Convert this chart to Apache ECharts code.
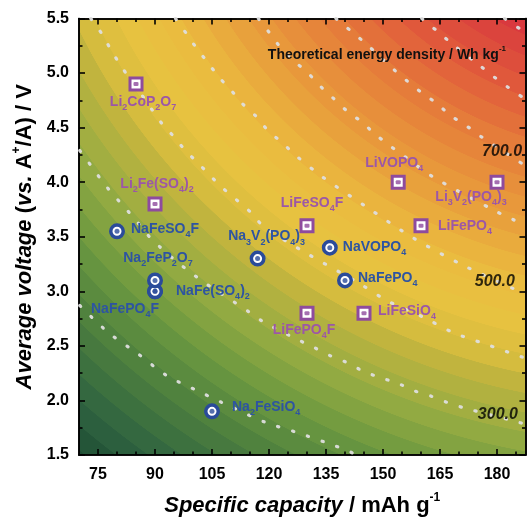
<!DOCTYPE html>
<html><head><meta charset="utf-8">
<script src="https://cdn.jsdelivr.net/npm/echarts@6/dist/echarts.min.js"></script>
<style>html,body{margin:0;padding:0;background:#fff}#chart{width:530px;height:522px}</style>
</head><body><div id="chart"></div>
<script>
// ---------------- data ----------------
const liNames    = ['Li2CoP2O7','Li2Fe(SO4)2','LiFeSO4F','LiVOPO4','Li3V2(PO4)3','LiFePO4','LiFePO4F','LiFeSiO4'];
const liCapacity = [85, 90, 130, 154, 180, 160, 130, 145];
const liVoltage  = [4.9, 3.8, 3.6, 4.0, 4.0, 3.6, 2.8, 2.8];

const naNames    = ['NaFeSO4F','NaFe(SO4)2','NaFePO4F','Na2FeP2O7','Na3V2(PO4)3','NaVOPO4','NaFePO4','Na2FeSiO4'];
const naCapacity = [80, 90, 90, 90, 117, 136, 140, 105];
const naVoltage  = [3.55, 3.0, 3.0, 3.1, 3.3, 3.4, 3.1, 1.9];

// dotted iso-energy lines: [capacity, voltage]
const contour200 = [[70.2,2.87],[77.8,2.62],[85.4,2.43],[93.0,2.23],[101.7,2.08],[110.1,1.94],[119.0,1.80],[127.9,1.70],[136.9,1.59],[141.3,1.53],[142.9,1.50]];
const contour300 = [[70.2,4.29],[73.4,4.14],[76.3,4.00],[78.9,3.89],[82.0,3.77],[85.2,3.64],[88.0,3.52],[91.2,3.41],[95.1,3.29],[99.1,3.18],[103.0,3.08],[106.9,2.99],[110.9,2.90],[114.8,2.81],[119.0,2.71],[127.4,2.56],[131.6,2.49],[136.1,2.41],[140.3,2.35],[144.7,2.27],[149.2,2.21],[153.7,2.16],[158.1,2.09],[162.6,2.04],[167.0,1.98],[171.5,1.93],[185.7,1.80],[187.5,1.78]];
const contour400 = [[73.1,5.50],[76.2,5.35],[78.6,5.20],[81.0,5.07],[83.3,4.95],[86.5,4.80],[89.1,4.67],[92.0,4.53],[94.9,4.42],[98.0,4.29],[101.2,4.18],[104.8,4.05],[107.7,3.95],[111.4,3.84],[115.3,3.72],[118.7,3.59],[130.3,3.34],[143.4,3.08],[151.3,2.91],[160.2,2.77],[168.6,2.62],[177.5,2.51],[186.4,2.40],[187.5,2.39]];
const contour500 = [[95.4,5.50],[98.3,5.36],[100.9,5.23],[103.8,5.10],[106.9,4.96],[110.1,4.84],[113.0,4.72],[116.7,4.60],[119.8,4.47],[123.2,4.37],[127.2,4.24],[134.0,4.05],[145.8,3.77],[157.9,3.49],[171.0,3.24],[185.2,3.01],[187.5,2.97]];
const contour600 = [[117.2,5.50],[120.1,5.37],[122.7,5.25],[126.6,5.11],[130.0,5.01],[133.5,4.88],[136.9,4.77],[140.6,4.65],[144.5,4.55],[147.9,4.44],[151.6,4.34],[155.5,4.24],[163.1,4.05],[179.9,3.73],[184.1,3.66],[187.5,3.60]];
const contour700 = [[137.6,5.50],[142.1,5.37],[145.8,5.26],[149.2,5.15],[152.9,5.03],[156.6,4.92],[160.2,4.82],[164.2,4.72],[167.8,4.61],[171.8,4.52],[175.7,4.42],[187.5,4.15]];
const contour800 = [[160.2,5.50],[164.4,5.38],[168.1,5.27],[175.4,5.07],[179.4,4.96],[183.3,4.86],[187.5,4.76]];
const contour900 = [[182.0,5.50],[187.5,5.37]];

const levelLabels   = ['300.0', '500.0', '700.0'];
const levelLabelCap = [185.5, 184.7, 186.6];
const levelLabelV   = [1.87, 3.09, 4.28];

const xMajorTicks = [75, 90, 105, 120, 135, 150, 165, 180];
const xMinorTicks = [80, 85, 95, 100, 110, 115, 125, 130, 140, 145, 155, 160, 170, 175, 185];
const yMajorTicks = [1.5, 2.0, 2.5, 3.0, 3.5, 4.0, 4.5, 5.0, 5.5];
const yMinorTicks = [1.75, 2.25, 2.75, 3.25, 3.75, 4.25, 4.75, 5.25];

// ---------------- styles ----------------
const FONT = '"Liberation Sans", Arial, Helvetica, sans-serif';
const LI_MARK = '#8e4b9e', LI_TEXT = '#9c57a7';
const NA_MARK = '#2a4b9a', NA_TEXT = '#2d54a2';

// label offsets relative to marker centre [dx, dy, align]
const labelPlace = {
  'Li2CoP2O7':   [7, 21, 'center'],
  'Li2Fe(SO4)2': [2, -17, 'center'],
  'LiFeSO4F':    [5, -20, 'center'],
  'LiVOPO4':     [-4, -16, 'center'],
  'Li3V2(PO4)3': [-26, 18, 'center'],
  'LiFePO4':     [17, 3, 'left'],
  'LiFePO4F':    [-3, 20, 'center'],
  'LiFeSiO4':    [14, 1, 'left'],
  'NaFeSO4F':    [14, 1, 'left'],
  'Na2FeP2O7':   [3, -19, 'center'],
  'NaFe(SO4)2':  [21, 3, 'left'],
  'NaFePO4F':    [-30, 21, 'center'],
  'Na3V2(PO4)3': [9, -19, 'center'],
  'NaVOPO4':     [13, 2, 'left'],
  'NaFePO4':     [13, 1, 'left'],
  'Na2FeSiO4':   [20, -1, 'left']
};

function formulaRich(name) {
  return name.replace(/([A-Za-z()]+)|(\d+)/g, (m, a, d) => a ? '{n|' + a + '}' : '{s|' + d + '}');
}
function richFor(color) {
  return {
    n: {color, fontSize: 14, fontWeight: 'bold', fontFamily: FONT, lineHeight: 14, padding: [0,0,3,0], verticalAlign: 'bottom', align: 'left'},
    s: {color, fontSize: 9, fontWeight: 'bold', fontFamily: FONT, lineHeight: 9, padding: [9,0,0,0], verticalAlign: 'bottom', align: 'left'}
  };
}
function pointData(names, caps, volts, color) {
  return names.map((nm, i) => {
    const p = labelPlace[nm];
    return {
      name: nm, value: [caps[i], volts[i]],
      label: {show: true, position: 'inside', offset: [p[0], p[1]], align: p[2], verticalAlign: 'middle',
              formatter: formulaRich(nm), rich: richFor(color)}
    };
  });
}
function dotData(caps, volts) { return caps.map((c, i) => [c, volts[i]]); }

const contourStyle = {color: 'rgba(222,222,222,0.95)', width: 3.2, type: [1.3, 14.3], cap: 'round'};
function contourSeries(data) {
  return {type: 'line', data, smooth: 0.3, showSymbol: false, silent: true, z: 3,
          lineStyle: contourStyle, xAxisIndex: 0, yAxisIndex: 0};
}

// smooth colour ramp of the background field, then quantised into bands (filled-contour look)
const ramp = [
  [0.00, '#d4303e'], [0.326, '#d8363e'], [0.341, '#da3e3d'], [0.398, '#e05a3b'], [0.454, '#e57a3a'],
  [0.525, '#e89a3b'], [0.601, '#eabc3f'], [0.645, '#e8c240'], [0.688, '#d6bc3e'], [0.705, '#c4b53e'],
  [0.770, '#94ab42'], [0.825, '#6c9840'], [0.872, '#52843e'], [0.955, '#2e6240'], [1.00, '#1e4d33']
];
function hex2rgb(h) { return [1,3,5].map(i => parseInt(h.substr(i, 2), 16)); }
function rampAt(t) {
  for (let i = 1; i < ramp.length; i++) {
    if (t <= ramp[i][0]) {
      const a = ramp[i-1], b = ramp[i], f = (t - a[0]) / (b[0] - a[0]);
      const ca = hex2rgb(a[1]), cb = hex2rgb(b[1]);
      return 'rgb(' + ca.map((v, k) => Math.round(v + (cb[k] - v) * f)).join(',') + ')';
    }
  }
  return ramp[ramp.length-1][1];
}
const bandStops = [];
const BAND = 0.021;
for (let t = 0.30; t < 1.0; t += BAND) {
  const c = rampAt(Math.min(1, t + BAND / 2));
  bandStops.push({offset: t, color: c});
  bandStops.push({offset: Math.min(1, t + BAND - 0.0005), color: c});
}
const bg = {type: 'radial', x: 650, y: -250, r: 910, global: true,
            colorStops: [{offset: 0, color: '#d4303e'}].concat(bandStops)};

const axisLineStyle = {color: '#000', width: 1.6};
function xAx(pos, ticks, len, withLabel) {
  return {
    type: 'value', min: 70, max: 187.5, position: pos, gridIndex: 0,
    axisLine: {show: true, onZero: false, lineStyle: axisLineStyle},
    axisTick: {show: true, inside: true, length: len, customValues: ticks, lineStyle: {color: '#000', width: 1.6}},
    axisLabel: {show: withLabel, customValues: ticks, fontSize: 16, fontWeight: 'bold', color: '#000', fontFamily: FONT, margin: 12},
    splitLine: {show: false}
  };
}
function yAx(pos, ticks, len, withLabel) {
  return {
    type: 'value', min: 1.5, max: 5.5, position: pos, gridIndex: 0,
    axisLine: {show: true, onZero: false, lineStyle: axisLineStyle},
    axisTick: {show: true, inside: true, length: len, customValues: ticks, lineStyle: {color: '#000', width: 1.6}},
    axisLabel: {show: withLabel, customValues: ticks, fontSize: 16, fontWeight: 'bold', color: '#000', fontFamily: FONT, margin: 10,
                formatter: v => v.toFixed(1)},
    splitLine: {show: false}
  };
}
const nameRich = {
  it: {fontSize: 22, fontWeight: 'bold', fontStyle: 'italic', fontFamily: FONT, color: '#000', lineHeight: 26, verticalAlign: 'bottom'},
  n: {fontSize: 22, fontWeight: 'bold', fontFamily: FONT, color: '#000', lineHeight: 26, verticalAlign: 'bottom'},
  sup: {fontSize: 12, fontWeight: 'bold', fontFamily: FONT, color: '#000', lineHeight: 12, padding: [0,0,13,0], verticalAlign: 'bottom'}
};

const xMain = xAx('bottom', xMajorTicks, 6, true);
Object.assign(xMain, {
  name: '{it|Specific capacity}{n| / mAh g}{sup|-1}', nameLocation: 'middle', nameGap: 36,
  nameTextStyle: {rich: nameRich}
});
const yMain = yAx('left', yMajorTicks, 6, true);
Object.assign(yMain, {
  name: '{it|Average voltage}{n| (}{it|vs.}{n| A}{sup|+}{n|/A) / V}', nameLocation: 'middle', nameGap: 39, nameRotate: 90,
  nameTextStyle: {rich: nameRich}
});

const option = {
  animation: false,
  backgroundColor: '#fff',
  title: {
    text: '{n|Theoretical energy density / Wh kg}{sup|-1}', right: 19, top: 41,
    textStyle: {rich: {
      n: {fontSize: 14, fontWeight: 'bold', fontFamily: FONT, color: '#111', lineHeight: 16, verticalAlign: 'bottom'},
      sup: {fontSize: 8, fontWeight: 'bold', fontFamily: FONT, color: '#111', lineHeight: 8, padding: [0,0,9,0], verticalAlign: 'bottom'}
    }}
  },
  grid: {left: 79, top: 18.5, width: 446.5, height: 437.2, show: true, backgroundColor: bg, borderWidth: 0},
  xAxis: [xMain, xAx('bottom', xMinorTicks, 3.5, false), xAx('top', xMajorTicks, 6, false), xAx('top', xMinorTicks, 3.5, false)],
  yAxis: [yMain, yAx('left', yMinorTicks, 3.5, false), yAx('right', yMajorTicks, 6, false), yAx('right', yMinorTicks, 3.5, false)],
  series: [
    contourSeries(contour200), contourSeries(contour300), contourSeries(contour400), contourSeries(contour500),
    contourSeries(contour600), contourSeries(contour700), contourSeries(contour800), contourSeries(contour900),
    {
      type: 'scatter', silent: true, symbolSize: 0, z: 4,
      data: levelLabels.map((t, i) => ({name: t, value: [levelLabelCap[i], levelLabelV[i]]})),
      label: {show: true, position: 'inside', align: 'right', verticalAlign: 'middle', formatter: p => p.name,
              fontSize: 16, fontWeight: 'bold', fontStyle: 'italic', fontFamily: FONT, color: '#000'}
    },
    {
      type: 'scatter', name: 'Li', z: 5, symbol: 'rect', symbolSize: 12,
      itemStyle: {color: '#fff', borderColor: LI_MARK, borderWidth: 3, opacity: 1},
      data: pointData(liNames, liCapacity, liVoltage, LI_TEXT)
    },
    {
      type: 'scatter', name: 'LiDot', z: 6, symbol: 'roundRect', symbolSize: [5, 4], silent: true,
      itemStyle: {color: LI_MARK}, data: dotData(liCapacity, liVoltage)
    },
    {
      type: 'scatter', name: 'Na', z: 5, symbol: 'circle', symbolSize: 12.5,
      itemStyle: {color: '#fff', borderColor: NA_MARK, borderWidth: 3.5, opacity: 1},
      data: pointData(naNames, naCapacity, naVoltage, NA_TEXT)
    },
    {
      type: 'scatter', name: 'NaDot', z: 6, symbol: 'circle', symbolSize: 5, silent: true,
      itemStyle: {color: NA_MARK}, data: dotData(naCapacity, naVoltage)
    }
  ]
};

const chart = echarts.init(document.getElementById('chart'), null, {renderer: 'canvas'});
chart.setOption(option);
</script>
</body></html>
